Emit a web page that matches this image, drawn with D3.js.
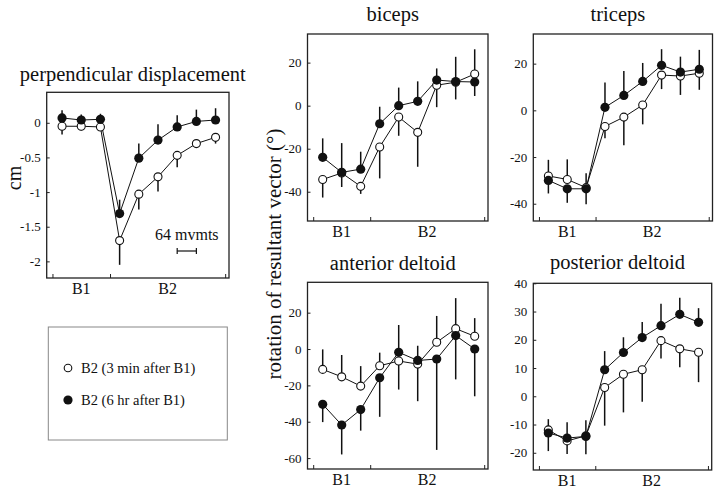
<!DOCTYPE html>
<html>
<head>
<meta charset="utf-8">
<script src="https://cdn.jsdelivr.net/npm/d3@7"></script>
<style>
  body { margin: 0; background: #fff; }
  svg text { font-family: 'Liberation Serif', 'Times New Roman', Times, 'DejaVu Serif', serif; }
</style>
</head>
<body>
<script>
// ---------- data ----------
const bins = [0, 1, 2, 3, 4, 5, 6, 7, 8];           // movement bins (64 movements each)
const blockNames = ["B1", "B2"];
const blockFirst = [0, 3];
const blockLast = [2, 8];
const legendLabels = ["B2 (3 min after B1)", "B2 (6 hr after B1)"];

// perpendicular displacement (cm)
const perpOpen      = [-0.05, -0.05, -0.06, -1.70, -1.03, -0.78, -0.47, -0.30, -0.21];
const perpOpenErr   = [0.12, 0.06, 0.04, 0.35, 0.22, 0.21, 0.17, 0.05, 0.09];
const perpFilled    = [0.07, 0.04, 0.05, -1.31, -0.51, -0.25, -0.06, 0.02, 0.04];
const perpFilledErr = [0.11, 0.08, 0.08, 0.20, 0.21, 0.23, 0.17, 0.17, 0.17];
const perpTicks = [0, -0.5, -1, -1.5, -2];

// biceps (deg)
const bicOpen      = [-34.3, -31.3, -37.5, -19.2, -5.3, -12.4, 9.5, 10.9, 14.7];
const bicOpenErr   = [8.4, 6.5, 3.5, 14.6, 8.7, 16.0, 10.2, 8.0, 11.5];
const bicFilled    = [-24.0, -31.0, -29.5, -8.4, 0.0, 2.0, 11.9, 11.2, 11.0];
const bicFilledErr = [8.8, 13.6, 8.1, 7.9, 8.4, 9.3, 5.4, 11.5, 6.5];
const bicTicks = [20, 0, -20, -40];

// triceps (deg)
const triOpen      = [-28.1, -29.6, -33.1, -6.9, -2.9, 2.3, 15.1, 14.7, 15.9];
const triOpenErr   = [6.9, 8.6, 6.1, 5.1, 12.1, 8.3, 6.0, 8.1, 7.1];
const triFilled    = [-30.0, -33.6, -33.6, 1.3, 6.4, 12.4, 19.3, 16.4, 17.6];
const triFilledErr = [5.6, 6.0, 6.6, 10.6, 10.4, 7.9, 6.9, 6.6, 8.3];
const triTicks = [20, 0, -20, -40];

// anterior deltoid (deg)
const antOpen      = [-11.2, -15.3, -20.4, -9.2, -6.6, -8.3, 3.7, 11.2, 7.0];
const antOpenErr   = [11.0, 12.0, 11.0, 7.2, 15.7, 20.4, 14.5, 16.8, 10.0];
const antFilled    = [-30.4, -41.8, -33.3, -15.8, -1.8, -6.3, -5.5, 7.4, 0.0];
const antFilledErr = [9.8, 16.2, 11.6, 21.5, 15.0, 8.1, 50.0, 24.1, 26.0];
const antTicks = [20, 0, -20, -40, -60];

// posterior deltoid (deg)
const posOpen      = [-11.9, -15.8, -14.0, 3.1, 7.8, 9.4, 19.7, 16.8, 15.6];
const posOpenErr   = [3.8, 4.6, 5.5, 13.5, 13.5, 11.3, 6.3, 6.5, 10.6];
const posFilled    = [-13.0, -14.8, -14.2, 9.4, 15.5, 20.8, 25.0, 29.0, 26.2];
const posFilledErr = [6.4, 5.6, 6.3, 6.6, 5.4, 5.5, 7.8, 5.9, 5.0];
const posTicks = [40, 30, 20, 10, 0, -10, -20];

// ---------- drawing ----------
const W = 720, H = 490;
const FONT = "'Liberation Serif', 'Times New Roman', Times, 'DejaVu Serif', serif";
const svg = d3.select("body").append("svg").attr("width", W).attr("height", H)
  .attr("font-family", FONT);
const INK = "#111";

function panel(o) {
  const x = d3.scaleLinear().domain([-0.8, 8.7]).range([o.x0, o.x1]);
  const y = d3.scaleLinear().domain(o.yDom).range([o.y1, o.y0]);
  const g = svg.append("g");

  // title
  g.append("text").attr("x", (o.x0 + o.x1) / 2 - 5).attr("y", o.titleY)
    .attr("text-anchor", "middle").attr("font-size", 20.5).attr("fill", INK).text(o.title);

  // frame
  g.append("rect").attr("x", o.x0).attr("y", o.y0)
    .attr("width", o.x1 - o.x0).attr("height", o.y1 - o.y0)
    .attr("fill", "none").attr("stroke", "#222").attr("stroke-width", 1.3);

  // y axis
  const ya = g.append("g").attr("transform", `translate(${o.x0},0)`)
    .call(d3.axisLeft(y).tickValues(o.ticks).tickSizeInner(-3).tickSizeOuter(0)
      .tickPadding(6).tickFormat(d => String(d)));
  ya.attr("font-family", FONT).attr("font-size", 13);
  ya.select(".domain").remove();
  ya.selectAll("line").attr("stroke", "#222");
  ya.selectAll("text").attr("fill", INK);

  // x axis (block boundaries)
  const bounds = [blockFirst[0] - 0.5].concat(blockLast.map(d => d + 0.5));
  const xa = g.append("g").attr("transform", `translate(0,${o.y1})`)
    .call(d3.axisBottom(x).tickValues(bounds).tickSizeInner(-4).tickSizeOuter(0).tickFormat(""));
  xa.select(".domain").remove();
  xa.selectAll("line").attr("stroke", "#222");

  // block labels
  g.selectAll("text.blk").data(blockNames).join("text").attr("class", "blk")
    .attr("x", (d, i) => x((blockFirst[i] + blockLast[i]) / 2))
    .attr("y", o.y1 + 16)
    .attr("text-anchor", "middle").attr("font-size", 16).attr("fill", INK).text(d => d);

  // error bars (one-sided: upper series up, lower series down)
  const bars = [];
  bins.forEach((b, i) => {
    const up = o.open[i] >= o.filled[i];
    bars.push({ b, v: o.open[i], e: o.open[i] + (up ? 1 : -1) * o.openErr[i] });
    bars.push({ b, v: o.filled[i], e: o.filled[i] + (up ? -1 : 1) * o.filledErr[i] });
  });
  g.selectAll("line.err").data(bars).join("line").attr("class", "err")
    .attr("x1", d => x(d.b)).attr("x2", d => x(d.b))
    .attr("y1", d => y(d.v)).attr("y2", d => y(d.e))
    .attr("stroke", INK).attr("stroke-width", 1.5);

  const line = d3.line().x((d, i) => x(bins[i])).y(d => y(d));
  g.append("path").datum(o.open).attr("d", line).attr("fill", "none")
    .attr("stroke", INK).attr("stroke-width", 1);
  g.append("path").datum(o.filled).attr("d", line).attr("fill", "none")
    .attr("stroke", INK).attr("stroke-width", 1);

  g.selectAll("circle.op").data(o.open).join("circle").attr("class", "op")
    .attr("cx", (d, i) => x(bins[i])).attr("cy", d => y(d)).attr("r", 4)
    .attr("fill", "#fff").attr("stroke", INK).attr("stroke-width", 1.1);
  g.selectAll("circle.fi").data(o.filled).join("circle").attr("class", "fi")
    .attr("cx", (d, i) => x(bins[i])).attr("cy", d => y(d)).attr("r", 4.6)
    .attr("fill", INK);

  return { x, y, g };
}

// left panel: perpendicular displacement
const P = panel({ x0: 46.7, x1: 229, y0: 92.3, y1: 278, yDom: [-2.24, 0.44],
  ticks: perpTicks, title: "perpendicular displacement", titleY: 81,
  open: perpOpen, openErr: perpOpenErr, filled: perpFilled, filledErr: perpFilledErr });

// scale bar: one bin = 64 movements
P.g.append("text").attr("x", (P.x(6) + P.x(7)) / 2).attr("y", 240)
  .attr("text-anchor", "middle").attr("font-size", 16).attr("fill", INK).text("64 mvmts");
const sb = P.g.append("g").attr("stroke", INK).attr("stroke-width", 1.2);
sb.append("line").attr("x1", P.x(6)).attr("x2", P.x(7)).attr("y1", 251).attr("y2", 251);
sb.append("line").attr("x1", P.x(6)).attr("x2", P.x(6)).attr("y1", 248).attr("y2", 254);
sb.append("line").attr("x1", P.x(7)).attr("x2", P.x(7)).attr("y1", 248).attr("y2", 254);

// cm label
svg.append("text").attr("transform", "translate(21,178) rotate(-90)")
  .attr("text-anchor", "middle").attr("font-size", 20).attr("fill", INK).text("cm");

panel({ x0: 307.5, x1: 488, y0: 34, y1: 221, yDom: [-53.6, 33.3],
  ticks: bicTicks, title: "biceps", titleY: 21,
  open: bicOpen, openErr: bicOpenErr, filled: bicFilled, filledErr: bicFilledErr });

panel({ x0: 533.3, x1: 712.5, y0: 34, y1: 221, yDom: [-47.4, 32.7],
  ticks: triTicks, title: "triceps", titleY: 21,
  open: triOpen, openErr: triOpenErr, filled: triFilled, filledErr: triFilledErr });

panel({ x0: 307.5, x1: 488, y0: 282.3, y1: 469, yDom: [-66, 36.7],
  ticks: antTicks, title: "anterior deltoid", titleY: 270,
  open: antOpen, openErr: antOpenErr, filled: antFilled, filledErr: antFilledErr });

panel({ x0: 533.3, x1: 711.7, y0: 283.3, y1: 470, yDom: [-26.1, 40],
  ticks: posTicks, title: "posterior deltoid", titleY: 269,
  open: posOpen, openErr: posOpenErr, filled: posFilled, filledErr: posFilledErr });

// shared y title
svg.append("text").attr("transform", "translate(281,254) rotate(-90)")
  .attr("text-anchor", "middle").attr("font-size", 21).attr("fill", INK)
  .text("rotation of resultant vector (°)");

// legend
const lg = svg.append("g");
lg.append("rect").attr("x", 48.3).attr("y", 327).attr("width", 179).attr("height", 113)
  .attr("fill", "none").attr("stroke", "#888").attr("stroke-width", 1);
const rowY = [368, 400];
legendLabels.forEach((t, i) => {
  const c = lg.append("circle").attr("cx", 68).attr("cy", rowY[i]).attr("r", i === 0 ? 3.8 : 4.6);
  if (i === 0) c.attr("fill", "#fff").attr("stroke", INK).attr("stroke-width", 1.1);
  else c.attr("fill", INK);
  lg.append("text").attr("x", 81).attr("y", rowY[i]).attr("dy", "0.35em")
    .attr("font-size", 14.5).attr("fill", INK).text(t);
});
</script>
</body>
</html>
